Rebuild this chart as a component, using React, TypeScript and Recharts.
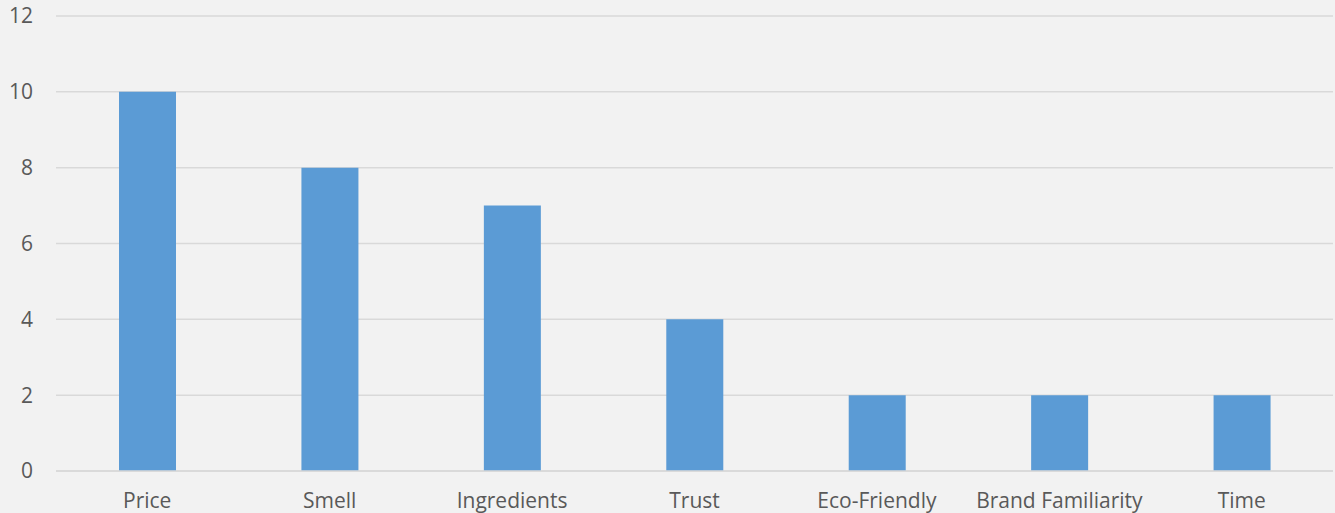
import React from "react";
import { BarChart, Bar, XAxis, YAxis, CartesianGrid } from "recharts";

// Categories and values
const categories = [
  "Price",
  "Smell",
  "Ingredients",
  "Trust",
  "Eco-Friendly",
  "Brand Familiarity",
  "Time",
];
const counts = [10, 8, 7, 4, 2, 2, 2];
const yTicks = [0, 2, 4, 6, 8, 10, 12];

const chartData = categories.map((name, i) => ({ name, value: counts[i] }));

const textStyle = { fill: "#595959", fontSize: 21, fontFamily: "'Open Sans', sans-serif" };

const App: React.FC = () => {
  return (
    <div
      style={{
        position: "absolute",
        top: 0,
        left: 0,
        width: 1335,
        height: 513,
        background: "#f2f2f2",
      }}
    >
      <BarChart
        width={1335}
        height={513}
        data={chartData}
        margin={{ top: 16, right: 2, left: 0, bottom: 0 }}
      >
        <CartesianGrid vertical={false} stroke="#d9d9d9" strokeWidth={1.5} />
        <XAxis
          dataKey="name"
          height={42}
          axisLine={{ stroke: "#d9d9d9", strokeWidth: 1.5 }}
          tickLine={false}
          tickSize={0}
          tickMargin={22}
          tick={textStyle}
          interval={0}
        />
        <YAxis
          width={56}
          domain={[0, 12]}
          ticks={yTicks}
          axisLine={false}
          tickLine={false}
          tickSize={0}
          tickMargin={23}
          tick={textStyle}
        />
        <Bar dataKey="value" fill="#5b9bd5" barSize={57} isAnimationActive={false} />
      </BarChart>
    </div>
  );
};

export default App;
